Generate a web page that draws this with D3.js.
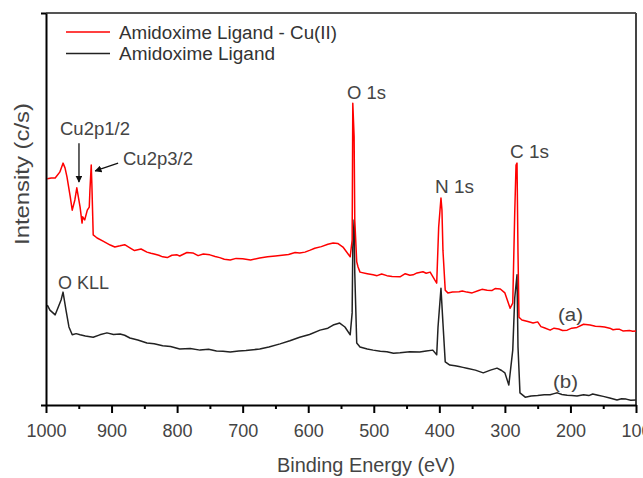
<!DOCTYPE html>
<html><head><meta charset="utf-8">
<script src="https://cdn.jsdelivr.net/npm/d3@7/dist/d3.min.js"></script>
<style>
body{margin:0;background:#fff}
text{font-family:Arial,"Liberation Sans",sans-serif}
</style>
</head><body>
<svg id="chart" width="643" height="478"></svg>
<script>
// ---------- data ----------
const xTicks = [1000, 900, 800, 700, 600, 500, 400, 300, 200, 100];
const xMinorTicks = [950, 850, 750, 650, 550, 450, 350, 250, 150];
const seriesNames = ["Amidoxime Ligand - Cu(II)", "Amidoxime Ligand"];
const seriesColors = ["#ff0000", "#222222"];
const curveLabels = ["(a)", "(b)"];

// (a) Amidoxime Ligand - Cu(II)
const redEnergy = [998, 992, 986, 979, 974, 971, 968, 963, 960, 956, 953, 948, 945, 944, 941, 937, 934, 933, 931, 930, 928, 922, 913, 902, 895, 887, 880, 872, 865, 860, 855, 846, 840, 835, 828, 822, 815, 808, 800, 796, 785, 776, 768, 760, 750, 742, 735, 728, 719, 710, 700, 688, 674, 662, 650, 640, 630, 620, 613, 605, 597, 590, 580, 570, 562, 555, 547, 536, 533, 532, 530, 529, 526, 524, 521, 510, 501, 495, 488, 480, 472, 460, 452, 445, 440, 434, 425, 420, 414, 407, 404, 401, 397.5, 396, 394.5, 391, 387, 380, 370, 365, 358, 350, 340, 335, 327, 320, 315, 307, 300, 292, 288, 285, 283, 281.5, 280, 278.5, 274, 265, 257, 250, 245, 240, 231, 225, 218, 212, 205, 198, 190, 180, 170, 162, 155, 148, 140, 135, 130, 125, 120, 110, 105, 100];
const redIntensity = [57.7, 57.9, 57.9, 59.4, 61.7, 60.5, 58.2, 53.1, 49.7, 52.3, 55.4, 50.5, 46.4, 48.0, 47.2, 49.7, 50.5, 54.8, 61.2, 56.1, 43.4, 42.6, 41.8, 40.8, 40.3, 40.6, 40.9, 40.1, 39.4, 39.6, 39.8, 39.0, 38.7, 38.5, 38.2, 37.8, 37.6, 38.2, 38.3, 38.0, 38.9, 38.8, 38.1, 38.5, 38.3, 37.9, 37.6, 37.2, 37.0, 37.4, 37.3, 37.0, 37.5, 37.8, 38.0, 38.2, 38.4, 38.9, 38.8, 39.0, 39.5, 40.0, 40.4, 41.0, 41.3, 41.2, 40.3, 37.8, 42.1, 77.0, 68.4, 47.2, 36.5, 35.2, 33.9, 33.5, 33.2, 33.0, 33.4, 33.0, 32.8, 32.7, 33.5, 33.1, 33.2, 33.7, 34.0, 33.6, 33.9, 31.9, 31.1, 45.4, 52.8, 49.7, 39.5, 29.3, 28.6, 28.8, 28.9, 29.1, 28.8, 28.6, 29.2, 29.5, 29.3, 29.2, 29.7, 29.6, 28.6, 24.7, 26.0, 49.0, 61.2, 61.7, 38.8, 22.4, 21.7, 21.3, 20.9, 21.2, 20.0, 19.7, 19.1, 19.6, 19.4, 19.0, 19.1, 19.6, 19.8, 20.6, 20.4, 20.1, 20.0, 19.9, 19.6, 19.2, 19.3, 19.3, 18.9, 19.0, 18.8, 18.9];

// (b) Amidoxime Ligand
const blackEnergy = [998, 994, 986, 982, 977, 974, 969.5, 965, 960, 954, 948, 940, 928, 918, 907, 897, 887, 880, 872, 860, 846, 835, 822, 810, 796, 780, 765, 752, 740, 730, 719, 706, 695, 684, 674, 660, 643, 628, 613, 598, 582, 570, 562, 552, 544, 536, 533, 532, 530, 529, 526, 521, 510, 501, 490, 480, 470, 460, 445, 430, 420, 410, 404, 402, 397.5, 394.5, 391, 384, 376, 370, 364, 358, 345, 333, 322, 312, 305, 300, 294, 288, 285, 281.5, 280, 277, 269, 260, 250, 240, 231, 225, 220, 213, 205, 198, 190, 180, 172, 166, 158, 150, 140, 129, 122, 115, 108, 100];
const blackIntensity = [25.5, 24.2, 23.0, 24.7, 26.8, 28.8, 24.2, 19.9, 17.9, 18.2, 17.9, 17.6, 17.3, 17.9, 18.4, 18.0, 18.1, 17.8, 17.1, 16.6, 15.8, 15.6, 15.1, 14.9, 14.3, 14.4, 14.0, 14.2, 13.8, 13.7, 13.5, 13.8, 13.9, 14.1, 14.3, 14.8, 15.6, 16.4, 17.3, 18.0, 19.1, 19.6, 20.4, 20.9, 19.9, 17.9, 23.5, 40.3, 47.2, 33.7, 15.8, 14.8, 14.3, 14.0, 13.7, 13.6, 13.2, 13.3, 13.6, 13.5, 13.8, 14.0, 12.8, 19.9, 29.8, 20.9, 11.0, 10.2, 10.0, 9.8, 9.6, 9.4, 8.9, 8.2, 8.9, 9.4, 8.8, 8.2, 5.1, 14.0, 27.3, 33.2, 14.8, 3.1, 2.0, 2.3, 2.4, 2.6, 2.6, 2.9, 3.1, 2.7, 2.5, 2.4, 2.3, 2.6, 2.4, 2.8, 2.5, 2.2, 1.8, 1.3, 1.6, 1.5, 1.2, 1.3];

// ---------- layout ----------
const svg = d3.select("#chart");
const x = d3.scaleLinear().domain([1000, 100]).range([46, 636]);
const y = d3.scaleLinear().domain([0, 100]).range([405, 13]);

const toPoints = (E, I) => E.map((e, i) => [e, I[i]]);
const line = d3.line().x(d => x(d[0])).y(d => y(d[1]));

// frame (top & right)
svg.append("line").attr("x1", x(1000)).attr("x2", x(100)).attr("y1", y(100)).attr("y2", y(100))
  .attr("stroke", "#555").attr("stroke-width", 2);
svg.append("line").attr("x1", x(100)).attr("x2", x(100)).attr("y1", y(100)).attr("y2", y(0))
  .attr("stroke", "#444").attr("stroke-width", 2);

// series
svg.append("path").datum(toPoints(blackEnergy, blackIntensity))
  .attr("d", line).attr("fill", "none").attr("stroke", seriesColors[1]).attr("stroke-width", 1.5)
  .attr("stroke-linejoin", "round");
svg.append("path").datum(toPoints(redEnergy, redIntensity))
  .attr("d", line).attr("fill", "none").attr("stroke", seriesColors[0]).attr("stroke-width", 1.5)
  .attr("stroke-linejoin", "round");

// axes
const xAxis = svg.append("g").attr("transform", `translate(0,${y(0)})`)
  .call(d3.axisBottom(x).tickValues(xTicks).tickSize(8).tickSizeOuter(0).tickPadding(11).tickFormat(d3.format("d")));
xAxis.selectAll("text").attr("font-size", 18).attr("fill", "#444").attr("font-family", "Arial, 'Liberation Sans', sans-serif");
const xMinor = svg.append("g").attr("transform", `translate(0,${y(0)})`)
  .call(d3.axisBottom(x).tickValues(xMinorTicks).tickSize(4).tickSizeOuter(0).tickFormat(""));
xMinor.select(".domain").remove();
const yAxis = svg.append("g").attr("transform", `translate(${x(1000)},0)`)
  .call(d3.axisLeft(y).tickValues([0, 100]).tickSize(5).tickSizeOuter(0).tickFormat(""));
svg.selectAll(".domain").attr("stroke", "#000").attr("stroke-width", 2);
svg.selectAll(".tick line").attr("stroke", "#000").attr("stroke-width", 2);

// axis titles
svg.append("text").attr("x", 277).attr("y", 472).attr("font-size", 20).attr("fill", "#444")
  .attr("textLength", 178).attr("lengthAdjust", "spacingAndGlyphs").text("Binding Energy (eV)");
svg.append("text").attr("transform", "translate(29,245) rotate(-90)").attr("font-size", 20).attr("fill", "#444")
  .attr("textLength", 142).attr("lengthAdjust", "spacingAndGlyphs").text("Intensity (c/s)");

// legend
const legend = svg.append("g");
seriesNames.forEach((name, i) => {
  const ly = 32 + i * 21.5;
  legend.append("line").attr("x1", 66).attr("x2", 110).attr("y1", ly).attr("y2", ly)
    .attr("stroke", seriesColors[i]).attr("stroke-width", 1.5);
  legend.append("text").attr("x", 119).attr("y", ly + 6.5).attr("font-size", 18).attr("fill", "#333")
    .attr("textLength", i === 0 ? 218 : 156).attr("lengthAdjust", "spacingAndGlyphs").text(name);
});

// peak labels
const labels = [
  {t: "O 1s", x: 347, y: 98.5, w: 39},
  {t: "N 1s", x: 435, y: 192.5, w: 39},
  {t: "C 1s", x: 510, y: 157.5, w: 39},
  {t: "Cu2p1/2", x: 60, y: 134.5, w: 70},
  {t: "Cu2p3/2", x: 123, y: 164.5, w: 70},
  {t: "O KLL", x: 58, y: 288.5, w: 51},
  {t: curveLabels[0], x: 558, y: 321, w: 25},
  {t: curveLabels[1], x: 553, y: 388, w: 25}
];
labels.forEach(l => {
  svg.append("text").attr("x", l.x).attr("y", l.y).attr("font-size", 18).attr("fill", "#444")
    .attr("textLength", l.w).attr("lengthAdjust", "spacingAndGlyphs").text(l.t);
});

// arrows
const defs = svg.append("defs");
defs.append("marker").attr("id", "ah").attr("viewBox", "0 0 10 10").attr("refX", 9).attr("refY", 5)
  .attr("markerWidth", 7).attr("markerHeight", 7).attr("markerUnits", "userSpaceOnUse").attr("orient", "auto")
  .append("path").attr("d", "M0,0 L10,5 L0,10 Z").attr("fill", "#111");
const arrows = [
  {e1: 949.7, v1: 66.8, e2: 949.7, v2: 56.9},
  {e1: 890, v1: 61.7, e2: 925, v2: 59.7}
];
arrows.forEach(a => {
  svg.append("line").attr("x1", x(a.e1)).attr("y1", y(a.v1)).attr("x2", x(a.e2)).attr("y2", y(a.v2))
    .attr("stroke", "#111").attr("stroke-width", 1.3).attr("marker-end", "url(#ah)");
});
</script>
</body></html>
